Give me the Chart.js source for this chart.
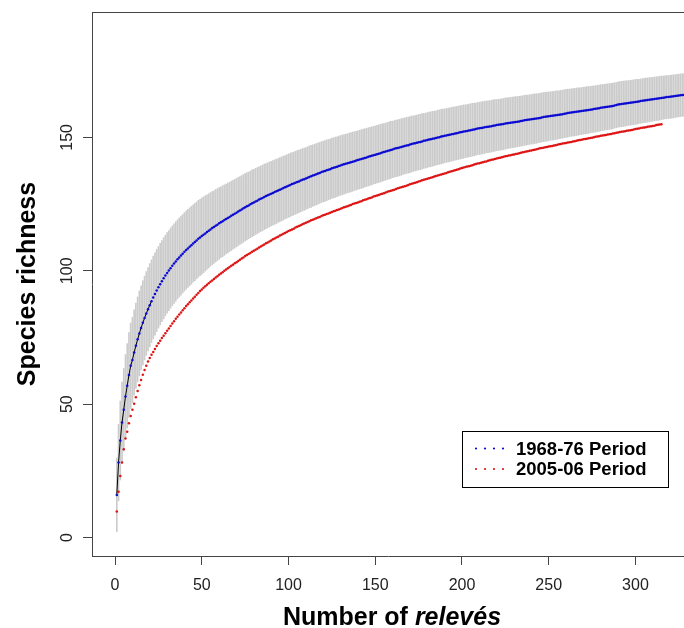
<!DOCTYPE html>
<html>
<head>
<meta charset="utf-8">
<script src="https://cdn.jsdelivr.net/npm/chart.js@4.4.1/dist/chart.umd.min.js"></script>
<style>
body { margin: 0; background: #fff; }
canvas { display: block; }
</style>
</head>
<body>
<canvas id="mycanvas" width="684" height="628"></canvas>
<script>
var seriesLabels = ['1968-76 Period', '2005-06 Period'];
var xTicks = [0, 50, 100, 150, 200, 250, 300];
var yTicks = [0, 50, 100, 150];
var xTitle = 'Number of ';
var xTitleItalic = 'relevés';
var yTitle = 'Species richness';

// mean richness per number of relevés (1, 2, 3 ...), 1968-76
var richness1968 = [
16.0, 28.1, 36.4, 43.1, 47.9, 52.9, 56.9, 60.9, 64.4, 66.6,
69.4, 71.9, 74.3, 76.5, 78.6, 80.5, 82.3, 84.0, 85.6, 87.1,
88.6, 90.0, 91.3, 92.6, 93.8, 95.0, 96.1, 97.2, 98.2, 99.2,
100.1, 101.0, 101.9, 102.7, 103.5, 104.3, 105.0, 105.7, 106.4, 107.1,
107.8, 108.4, 109.0, 109.6, 110.2, 110.8, 111.4, 112.0, 112.5, 113.0,
113.5, 114.0, 114.5, 115.0, 115.5, 116.0, 116.4, 116.9, 117.3, 117.8,
118.2, 118.6, 119.0, 119.4, 119.8, 120.2, 120.6, 121.0, 121.4, 121.8,
122.2, 122.6, 123.0, 123.4, 123.8, 124.2, 124.5, 124.9, 125.3, 125.6,
126.0, 126.3, 126.7, 127.0, 127.3, 127.7, 128.0, 128.3, 128.6, 128.9,
129.2, 129.5, 129.8, 130.1, 130.4, 130.7, 131.0, 131.3, 131.6, 131.9,
132.2, 132.5, 132.7, 133.0, 133.3, 133.5, 133.8, 134.1, 134.3, 134.6,
134.9, 135.2, 135.4, 135.7, 135.9, 136.2, 136.5, 136.7, 137.0, 137.2,
137.4, 137.7, 137.9, 138.1, 138.4, 138.6, 138.8, 139.0, 139.3, 139.5,
139.7, 139.9, 140.1, 140.3, 140.5, 140.7, 140.9, 141.1, 141.3, 141.5,
141.7, 141.9, 142.1, 142.3, 142.5, 142.7, 142.9, 143.1, 143.3, 143.5,
143.7, 143.9, 144.1, 144.3, 144.5, 144.7, 144.9, 145.1, 145.3, 145.5,
145.7, 145.9, 146.0, 146.2, 146.4, 146.6, 146.8, 147.0, 147.1, 147.3,
147.5, 147.7, 147.8, 148.0, 148.2, 148.3, 148.5, 148.7, 148.8, 149.0,
149.2, 149.3, 149.5, 149.6, 149.8, 150.0, 150.1, 150.3, 150.4, 150.6,
150.7, 150.9, 151.0, 151.2, 151.3, 151.5, 151.6, 151.7, 151.9, 152.0,
152.2, 152.3, 152.4, 152.6, 152.7, 152.9, 153.0, 153.1, 153.3, 153.4,
153.5, 153.6, 153.8, 153.9, 154.0, 154.1, 154.2, 154.4, 154.5, 154.6,
154.7, 154.8, 154.9, 155.0, 155.2, 155.3, 155.4, 155.5, 155.6, 155.7,
155.8, 155.9, 156.0, 156.1, 156.2, 156.4, 156.5, 156.6, 156.7, 156.8,
156.9, 157.0, 157.1, 157.2, 157.3, 157.5, 157.6, 157.7, 157.8, 157.9,
158.0, 158.1, 158.2, 158.3, 158.4, 158.5, 158.6, 158.7, 158.9, 159.0,
159.1, 159.2, 159.3, 159.4, 159.5, 159.6, 159.7, 159.8, 159.9, 160.0,
160.1, 160.2, 160.3, 160.4, 160.5, 160.6, 160.7, 160.8, 160.9, 161.1,
161.2, 161.3, 161.4, 161.5, 161.6, 161.7, 161.8, 162.0, 162.1, 162.3,
162.4, 162.5, 162.6, 162.7, 162.8, 162.9, 163.0, 163.1, 163.2, 163.3,
163.4, 163.5, 163.6, 163.7, 163.8, 163.9, 164.0, 164.1, 164.2, 164.3,
164.4, 164.5, 164.6, 164.7, 164.8, 164.9, 165.0, 165.1, 165.1, 165.2,
165.3, 165.4, 165.5, 165.6, 165.7, 165.8, 165.9, 165.9, 166.0, 166.1
];

// standard deviation of the 1968-76 curve (grey bars)
var sd1968 = [
13.8, 14.3, 14.8, 15.2, 15.5, 15.7, 15.8, 15.9, 16.0, 16.0,
16.0, 16.0, 15.9, 15.9, 15.8, 15.8, 15.7, 15.7, 15.6, 15.6,
15.5, 15.5, 15.4, 15.4, 15.3, 15.3, 15.2, 15.2, 15.1, 15.1,
15.0, 15.0, 14.9, 14.9, 14.9, 14.8, 14.8, 14.8, 14.7, 14.7,
14.7, 14.6, 14.6, 14.6, 14.5, 14.5, 14.4, 14.4, 14.3, 14.3,
14.2, 14.1, 14.0, 13.9, 13.8, 13.7, 13.6, 13.6, 13.5, 13.4,
13.3, 13.3, 13.2, 13.1, 13.1, 13.0, 13.0, 12.9, 12.9, 12.8,
12.8, 12.7, 12.7, 12.7, 12.6, 12.6, 12.5, 12.5, 12.5, 12.4,
12.4, 12.4, 12.3, 12.3, 12.3, 12.3, 12.2, 12.2, 12.2, 12.1,
12.1, 12.1, 12.1, 12.0, 12.0, 12.0, 12.0, 11.9, 11.9, 11.9,
11.9, 11.8, 11.8, 11.8, 11.8, 11.7, 11.7, 11.7, 11.7, 11.6,
11.6, 11.6, 11.6, 11.5, 11.5, 11.5, 11.5, 11.4, 11.4, 11.4,
11.4, 11.4, 11.3, 11.3, 11.3, 11.3, 11.3, 11.2, 11.2, 11.2,
11.2, 11.2, 11.1, 11.1, 11.1, 11.1, 11.1, 11.0, 11.0, 11.0,
11.0, 11.0, 11.0, 10.9, 10.9, 10.9, 10.9, 10.9, 10.8, 10.8,
10.8, 10.8, 10.8, 10.8, 10.7, 10.7, 10.7, 10.7, 10.7, 10.6,
10.6, 10.6, 10.6, 10.6, 10.6, 10.5, 10.5, 10.5, 10.5, 10.5,
10.5, 10.4, 10.4, 10.4, 10.4, 10.4, 10.4, 10.3, 10.3, 10.3,
10.3, 10.3, 10.3, 10.2, 10.2, 10.2, 10.2, 10.2, 10.2, 10.1,
10.1, 10.1, 10.1, 10.1, 10.1, 10.0, 10.0, 10.0, 10.0, 10.0,
10.0, 9.9, 9.9, 9.9, 9.9, 9.9, 9.9, 9.8, 9.8, 9.8,
9.8, 9.8, 9.8, 9.7, 9.7, 9.7, 9.7, 9.7, 9.7, 9.6,
9.6, 9.6, 9.6, 9.6, 9.6, 9.5, 9.5, 9.5, 9.5, 9.5,
9.5, 9.4, 9.4, 9.4, 9.4, 9.4, 9.4, 9.3, 9.3, 9.3,
9.3, 9.3, 9.3, 9.2, 9.2, 9.2, 9.2, 9.2, 9.2, 9.1,
9.1, 9.1, 9.1, 9.1, 9.1, 9.0, 9.0, 9.0, 9.0, 9.0,
9.0, 8.9, 8.9, 8.9, 8.9, 8.9, 8.9, 8.8, 8.8, 8.8,
8.8, 8.8, 8.8, 8.7, 8.7, 8.7, 8.7, 8.7, 8.7, 8.7,
8.6, 8.6, 8.6, 8.6, 8.6, 8.6, 8.6, 8.5, 8.5, 8.5,
8.5, 8.5, 8.5, 8.5, 8.4, 8.4, 8.4, 8.4, 8.4, 8.4,
8.4, 8.3, 8.3, 8.3, 8.3, 8.3, 8.3, 8.3, 8.2, 8.2,
8.2, 8.2, 8.2, 8.2, 8.2, 8.1, 8.1, 8.1, 8.1, 8.1,
8.1, 8.1, 8.0, 8.0, 8.0, 8.0, 8.0, 8.0, 8.0, 7.9
];

// mean richness per number of relevés, 2005-06
var richness2005 = [
9.8, 17.2, 23.1, 28.1, 33.1, 37.1, 39.7, 42.9, 45.6, 47.9,
50.2, 52.6, 54.9, 57.1, 59.1, 61.0, 62.8, 64.4, 66.0, 67.3,
68.5, 69.6, 70.7, 71.8, 72.8, 73.8, 74.8, 75.7, 76.6, 77.5,
78.4, 79.3, 80.2, 81.1, 82.0, 82.8, 83.6, 84.4, 85.2, 86.0,
86.8, 87.5, 88.2, 88.9, 89.6, 90.3, 91.0, 91.7, 92.4, 93.0,
93.6, 94.2, 94.8, 95.3, 95.9, 96.4, 96.9, 97.5, 98.0, 98.5,
99.0, 99.5, 100.0, 100.5, 101.0, 101.4, 101.9, 102.3, 102.8, 103.2,
103.7, 104.1, 104.6, 105.0, 105.5, 105.9, 106.3, 106.7, 107.1, 107.5,
107.9, 108.3, 108.7, 109.1, 109.5, 109.9, 110.3, 110.6, 111.0, 111.4,
111.8, 112.1, 112.5, 112.8, 113.2, 113.5, 113.9, 114.2, 114.5, 114.9,
115.2, 115.5, 115.8, 116.2, 116.5, 116.8, 117.1, 117.4, 117.7, 118.0,
118.3, 118.6, 118.9, 119.1, 119.4, 119.7, 120.0, 120.2, 120.5, 120.8,
121.0, 121.3, 121.5, 121.8, 122.0, 122.3, 122.5, 122.8, 123.0, 123.3,
123.5, 123.8, 124.0, 124.2, 124.5, 124.7, 125.0, 125.2, 125.4, 125.6,
125.9, 126.1, 126.4, 126.6, 126.8, 127.1, 127.3, 127.5, 127.8, 128.0,
128.2, 128.4, 128.7, 128.9, 129.1, 129.3, 129.6, 129.8, 130.0, 130.2,
130.4, 130.7, 130.9, 131.1, 131.3, 131.5, 131.7, 131.9, 132.2, 132.4,
132.6, 132.8, 133.0, 133.2, 133.5, 133.7, 133.9, 134.1, 134.3, 134.5,
134.7, 134.9, 135.1, 135.3, 135.5, 135.7, 135.9, 136.1, 136.3, 136.5,
136.7, 136.9, 137.1, 137.3, 137.5, 137.7, 137.9, 138.1, 138.3, 138.5,
138.7, 138.9, 139.1, 139.2, 139.4, 139.6, 139.8, 140.0, 140.2, 140.3,
140.5, 140.7, 140.9, 141.0, 141.2, 141.4, 141.6, 141.7, 141.9, 142.1,
142.3, 142.4, 142.6, 142.7, 142.9, 143.0, 143.2, 143.3, 143.5, 143.6,
143.8, 143.9, 144.1, 144.2, 144.4, 144.5, 144.7, 144.8, 145.0, 145.1,
145.3, 145.4, 145.6, 145.7, 145.9, 146.0, 146.1, 146.3, 146.4, 146.6,
146.7, 146.8, 147.0, 147.1, 147.2, 147.4, 147.5, 147.7, 147.8, 147.9,
148.1, 148.2, 148.3, 148.5, 148.6, 148.7, 148.9, 149.0, 149.1, 149.3,
149.4, 149.5, 149.7, 149.8, 149.9, 150.1, 150.2, 150.3, 150.4, 150.6,
150.7, 150.8, 150.9, 151.1, 151.2, 151.3, 151.5, 151.6, 151.7, 151.8,
152.0, 152.1, 152.2, 152.3, 152.5, 152.6, 152.7, 152.8, 153.0, 153.1,
153.2, 153.3, 153.5, 153.6, 153.7, 153.8, 154.0, 154.1, 154.2, 154.3,
154.4, 154.6, 154.7, 154.8, 154.9
];

var blueCol = '#0a0ad2';
var redCol = '#dd1414';
var fontFam = '"Liberation Sans", Arial, sans-serif';

var blueData = [], barData = [], redData = [];
for (var i = 0; i < richness1968.length; i++) {
	blueData.push({x: i + 1, y: richness1968[i]});
	barData.push({x: i + 1, y: [richness1968[i] - sd1968[i], richness1968[i] + sd1968[i]]});
}
for (var j = 0; j < richness2005.length; j++) {
	redData.push({x: j + 1, y: richness2005[j]});
}

// frame top, y tick labels, axis titles and legend box (R style)
var extras = {
	id: 'extras',
	afterDraw: function(chart) {
		var c = chart.ctx, a = chart.chartArea;
		c.save();
		c.strokeStyle = '#444';
		c.lineWidth = 1;
		c.beginPath();
		c.moveTo(a.left, Math.round(a.top) + 0.5);
		c.lineTo(684, Math.round(a.top) + 0.5);
		c.stroke();

		var ys = chart.scales.y;
		c.fillStyle = '#222';
		c.font = '16px ' + fontFam;
		c.textAlign = 'center';
		c.textBaseline = 'middle';
		yTicks.forEach(function(v) {
			c.save();
			c.translate(68, ys.getPixelForValue(v));
			c.rotate(-Math.PI / 2);
			c.fillText(String(v), 0, 0);
			c.restore();
		});

		c.fillStyle = '#000';
		c.font = 'bold 25px ' + fontFam;
		c.textBaseline = 'alphabetic';
		c.save();
		c.translate(35, (a.top + a.bottom) / 2);
		c.rotate(-Math.PI / 2);
		c.fillText(yTitle, 0, 0);
		c.restore();

		var w1 = c.measureText(xTitle).width;
		c.font = 'italic bold 25px ' + fontFam;
		var w2 = c.measureText(xTitleItalic).width;
		var x0 = 392 - (w1 + w2) / 2;
		c.textAlign = 'left';
		c.font = 'bold 25px ' + fontFam;
		c.fillText(xTitle, x0, 625);
		c.font = 'italic bold 25px ' + fontFam;
		c.fillText(xTitleItalic, x0 + w1, 625);

		// legend
		c.fillStyle = '#fff';
		c.fillRect(462, 431, 206, 56);
		c.strokeStyle = '#000';
		c.strokeRect(462.5, 431.5, 206, 56);
		var cols = [blueCol, redCol];
		c.font = 'bold 18.5px ' + fontFam;
		c.textBaseline = 'middle';
		for (var k = 0; k < seriesLabels.length; k++) {
			var ly = 448.5 + k * 20.5;
			c.fillStyle = cols[k];
			for (var d = 0; d < 4; d++) {
				c.beginPath();
				c.arc(476 + d * 9, ly, 1.1, 0, Math.PI * 2);
				c.fill();
			}
			c.fillStyle = '#000';
			c.fillText(seriesLabels[k], 516, ly + 1);
		}
		c.restore();
	}
};

var ctx = document.getElementById('mycanvas');

var accGraph = new Chart(ctx, {
	type: 'line',
	data: {
		datasets: [
			{
				type: 'bar',
				label: 'sd',
				data: barData,
				backgroundColor: '#cbcbcb',
				borderWidth: 0,
				barThickness: 1,
				order: 3
			},
			{
				label: seriesLabels[1],
				data: redData,
				showLine: false,
				pointRadius: 1.25,
				pointHoverRadius: 0,
				pointBackgroundColor: redCol,
				pointBorderWidth: 0,
				order: 2
			},
			{
				label: seriesLabels[0],
				data: blueData,
				showLine: true,
				borderWidth: 1,
				borderColor: '#000',
				segment: {
					borderColor: function(s) { return s.p0DataIndex < 20 ? '#000' : 'rgba(0,0,0,0)'; }
				},
				pointRadius: 1.25,
				pointHoverRadius: 0,
				pointBackgroundColor: blueCol,
				pointBorderWidth: 0,
				order: 1
			}
		]
	},
	options: {
		responsive: false,
		animation: false,
		events: [],
		layout: { autoPadding: false, padding: { top: 12, left: 0, right: 0, bottom: 0 } },
		plugins: {
			legend: { display: false },
			tooltip: { enabled: false }
		},
		scales: {
			x: {
				type: 'linear',
				bounds: 'data',
				min: -13.3,
				max: 328,
				offset: false,
				afterBuildTicks: function(s) { s.ticks = xTicks.map(function(v) { return {value: v}; }); },
				afterFit: function(s) { s.height = 72; },
				grid: { offset: false, drawOnChartArea: false, tickLength: 9, color: '#444' },
				border: { color: '#444' },
				ticks: { color: '#222', font: { family: fontFam, size: 16 }, padding: 11, maxRotation: 0, autoSkip: false }
			},
			y: {
				type: 'linear',
				bounds: 'data',
				min: -6.9,
				max: 197,
				afterBuildTicks: function(s) { s.ticks = yTicks.map(function(v) { return {value: v}; }); },
				afterFit: function(s) { s.width = 92; },
				grid: { offset: false, drawOnChartArea: false, tickLength: 9, color: '#444' },
				border: { color: '#444' },
				ticks: { display: false }
			}
		}
	},
	plugins: [extras]
});
</script>
</body>
</html>
